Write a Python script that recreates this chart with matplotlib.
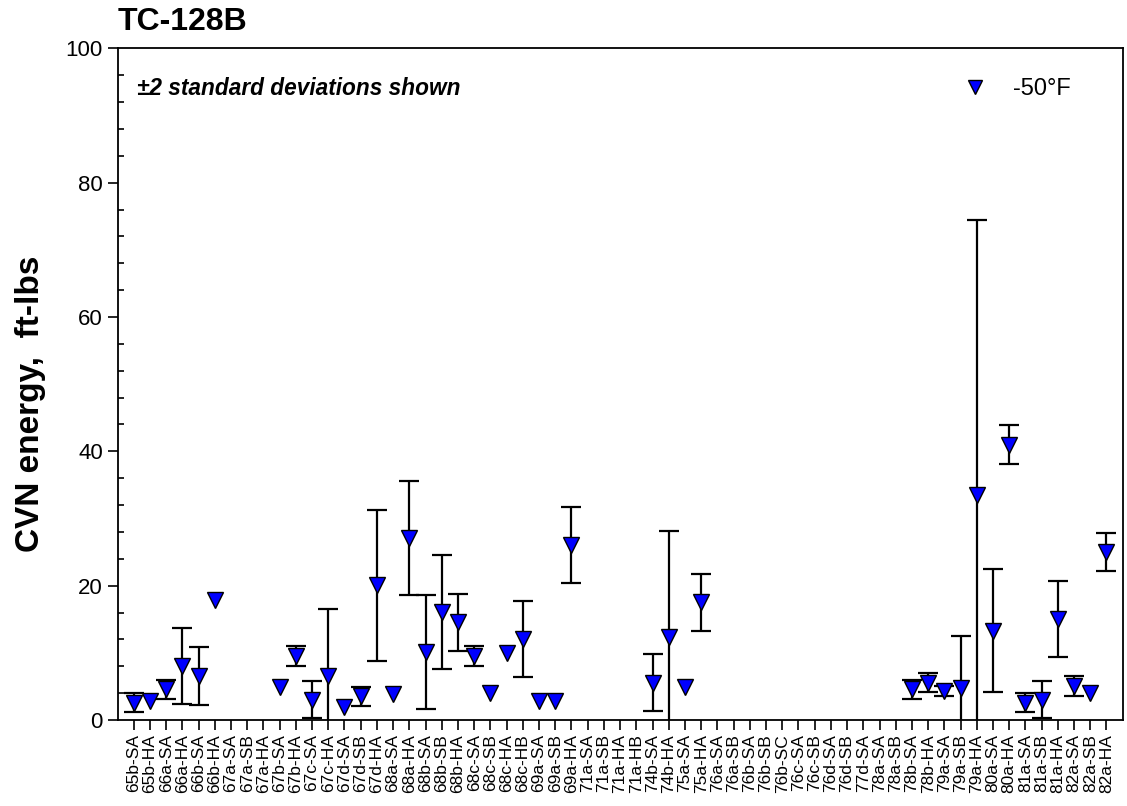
import numpy as np
import matplotlib
matplotlib.use("Agg")
import matplotlib.pyplot as plt
from matplotlib.ticker import MultipleLocator

plt.rcParams['font.family'] = ['Liberation Sans', 'DejaVu Sans']

labels = ["65b-SA", "65b-HA", "66a-SA", "66a-HA", "66b-SA", "66b-HA", "67a-SA", "67a-SB",
          "67a-HA", "67b-SA", "67b-HA", "67c-SA", "67c-HA", "67d-SA", "67d-SB", "67d-HA",
          "68a-SA", "68a-HA", "68b-SA", "68b-SB", "68b-HA", "68c-SA", "68c-SB", "68c-HA",
          "68c-HB", "69a-SA", "69a-SB", "69a-HA", "71a-SA", "71a-SB", "71a-HA", "71a-HB",
          "74b-SA", "74b-HA", "75a-SA", "75a-HA", "76a-SA", "76a-SB", "76b-SA", "76b-SB",
          "76b-SC", "76c-SA", "76c-SB", "76d-SA", "76d-SB", "77d-SA", "78a-SA", "78a-SB",
          "78b-SA", "78b-HA", "79a-SA", "79a-SB", "79a-HA", "80a-SA", "80a-HA", "81a-SA",
          "81a-SB", "81a-HA", "82a-SA", "82a-SB", "82a-HA"]

nan = np.nan
cvn_mean = [2.55, 2.9, 4.55, 8.05, 6.55, 17.9, nan, nan,
            nan, 4.9, 9.55, 3.05, 6.5, 2.0, 3.5, 20.05,
            3.9, 27.05, 10.1, 16.05, 14.55, 9.55, 4.0, 9.95,
            12.1, 2.9, 2.9, 26.05, nan, nan, nan, nan,
            5.55, 12.4, 4.9, 17.55, nan, nan, nan, nan,
            nan, nan, nan, nan, nan, nan, nan, nan,
            4.55, 5.55, 4.3, 4.75, 33.5, 13.3, 41.0, 2.55,
            3.05, 15.05, 5.05, 4.0, 25.05]

cvn_2sd = [1.4, nan, 1.45, 5.65, 4.25, nan, nan, nan,
           nan, nan, 1.45, 2.8, 10.0, nan, 1.4, 11.25,
           nan, 8.5, 8.5, 8.5, 4.25, 1.45, nan, nan,
           5.65, nan, nan, 5.65, nan, nan, nan, nan,
           4.25, 15.7, nan, 4.25, nan, nan, nan, nan,
           nan, nan, nan, nan, nan, nan, nan, nan,
           1.4, 1.4, 0.75, 7.8, 41.0, 9.2, 2.85, 1.4,
           2.8, 5.65, 1.45, nan, 2.85]

x = np.arange(len(labels))
y = np.array(cvn_mean, dtype=float)
e = np.array(cvn_2sd, dtype=float)

fig = plt.figure(figsize=(11.27, 8.06), dpi=100)
ax = fig.add_axes([117.5 / 1127, 1 - 720 / 806, (1122.7 - 117.5) / 1127, (720 - 48.3) / 806])

has_err = ~np.isnan(e) & ~np.isnan(y)
ax.errorbar(x[has_err], y[has_err], yerr=e[has_err], fmt='none', ecolor='black',
            elinewidth=1.6, capsize=7, capthick=1.6, zorder=2)
ax.plot(x, y, linestyle='none', marker='v', markersize=11, markerfacecolor='#0000ff',
        markeredgecolor='black', markeredgewidth=1.0, zorder=3, label='-50°F')

ax.set_xlim(-1, 61)
ax.set_ylim(0, 100)
ax.set_xticks(x)
ax.set_xticklabels(labels, rotation=90, fontsize=12.5)
ax.yaxis.set_major_locator(MultipleLocator(20))
ax.yaxis.set_minor_locator(MultipleLocator(4))
ax.tick_params(axis='y', which='major', direction='out', length=7, width=1.2, labelsize=16)
ax.tick_params(axis='y', which='minor', direction='in', length=4, width=1.2)
ax.tick_params(axis='x', which='major', direction='out', length=7, width=1.2, pad=3)
for s in ax.spines.values():
    s.set_linewidth(1.3)

ax.set_ylabel('CVN energy,  ft-lbs', fontsize=24, fontweight='bold')
ax.yaxis.set_label_coords(-0.071, 0.47)
fig.text(118 / 1127, 1 - 22 / 806, 'TC-128B', fontsize=23, fontweight='bold',
         ha='left', va='center')
ax.text(0.019, 0.94, '±2 standard deviations shown', transform=ax.transAxes,
        fontsize=16.3, fontweight='bold', fontstyle='italic', ha='left', va='center')

ax.legend(loc='upper right', bbox_to_anchor=(0.969, 0.987), frameon=False, fontsize=17,
          handletextpad=0.6, markerscale=0.9)

fig.savefig('out.png', dpi=100)
